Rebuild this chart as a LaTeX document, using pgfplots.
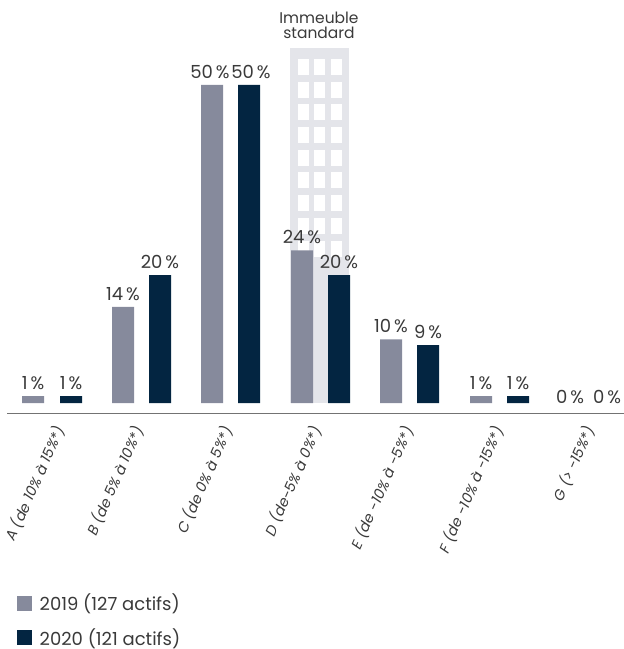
\documentclass[border=0pt]{standalone}
\usepackage{pgfplots}
\pgfplotsset{compat=1.18}
\usepackage{fontspec}
\setmainfont{Poppins}
\definecolor{c19}{HTML}{868A9C}
\definecolor{c20}{HTML}{032541}
\definecolor{bld}{HTML}{E4E5EA}
\definecolor{txt}{HTML}{3A3A3A}
\begin{document}
\begin{tikzpicture}[x=1pt,y=1pt]
\path[use as bounding box] (0pt,-236pt) rectangle (624pt,413pt);
\begin{axis}[
  at={(0pt,0pt)}, anchor=south west,
  scale only axis, width=624pt, height=413pt,
  xmin=0, xmax=624, ymin=-1.572, ymax=63.36,
  clip=false,
  axis line style={draw=none},
  major tick style={draw=none},
  ytick=\empty,
  xtick={50,129,218,307,399,489,580},
  xticklabels={{A (de 10\% à 15\%*)},{B (de 5\% à 10\%*)},{C (de 0\% à 5\%*)},{D (de-5\% à 0\%*)},{E (de -10\% à -5\%*)},{F (de -10\% à -15\%*)},{G (> -15\%*)}},
  xticklabel style={rotate=66, anchor=east, yshift=-15pt, xshift=-5.5pt, font=\fontsize{14.5}{14.5}\selectfont\itshape, text=txt},
  legend cell align=left,
  legend style={at={(axis cs:16.5,-29.7)}, anchor=north west, draw=none, fill=none,
    font=\fontsize{18}{18}\selectfont, text=txt, row sep=12pt, inner sep=0pt},
  legend image code/.code={\fill[#1] (0pt,-7.5pt) rectangle (15pt,7.5pt); \path (21pt,0pt);},
  nodes near coords style={font=\fontsize{18}{18}\selectfont, text=txt, anchor=south, inner sep=1pt, yshift=5pt},
]
% building
\addplot[fill=bld, draw=none, forget plot] coordinates {(290,0) (349,0) (349,55.82) (290,55.82)} -- cycle;
\pgfplotsinvokeforeach{0,...,8}{
  \fill[white] (axis cs:298,{(403-59-22.7*#1)/6.36}) rectangle (axis cs:309,{(403-75-22.7*#1)/6.36});
  \fill[white] (axis cs:314,{(403-59-22.7*#1)/6.36}) rectangle (axis cs:325,{(403-75-22.7*#1)/6.36});
  \fill[white] (axis cs:331,{(403-59-22.7*#1)/6.36}) rectangle (axis cs:342,{(403-75-22.7*#1)/6.36});
}
\addplot[ybar, bar width=22pt, bar shift=0pt, fill=c19, draw=none,
  nodes near coords, point meta=explicit symbolic]
  table[meta=l] {
x y l
33 1.1 1\,\%
123 15.1 14\,\%
212 50 \kern-4pt{}50\,\%
302 24 24\,\%
391 10 10\,\%
481 1.1 1\,\%
};
\addplot[ybar, bar width=22pt, bar shift=0pt, fill=c20, draw=none,
  nodes near coords, point meta=explicit symbolic]
  table[meta=l] {
x y l
71 1.1 1\,\%
160 20.1 20\,\%
249 50 50\,\%\kern-4pt{}
339 20.1 20\,\%
428 9.1 9\,\%
518 1.1 1\,\%
};
\legend{2019 (127 actifs),2020 (121 actifs)}
% the two zero values of class G: no visible bar, label sits lower
\addplot[draw=none, mark=none, forget plot, nodes near coords, point meta=explicit symbolic,
  nodes near coords style={yshift=-7pt}]
  table[meta=l] {
x y l
570 0 0\,\%
607 0 0\,\%
};
\addplot[draw=black!55, line width=1pt, forget plot] coordinates {(7,-1.572) (624,-1.572)};
\node[align=center, font=\fontsize{15.5}{15}\selectfont, text=txt, anchor=center] at (axis cs:319,{(403-25.5)/6.36}) {Immeuble\\standard};
\end{axis}
\end{tikzpicture}
\end{document}
